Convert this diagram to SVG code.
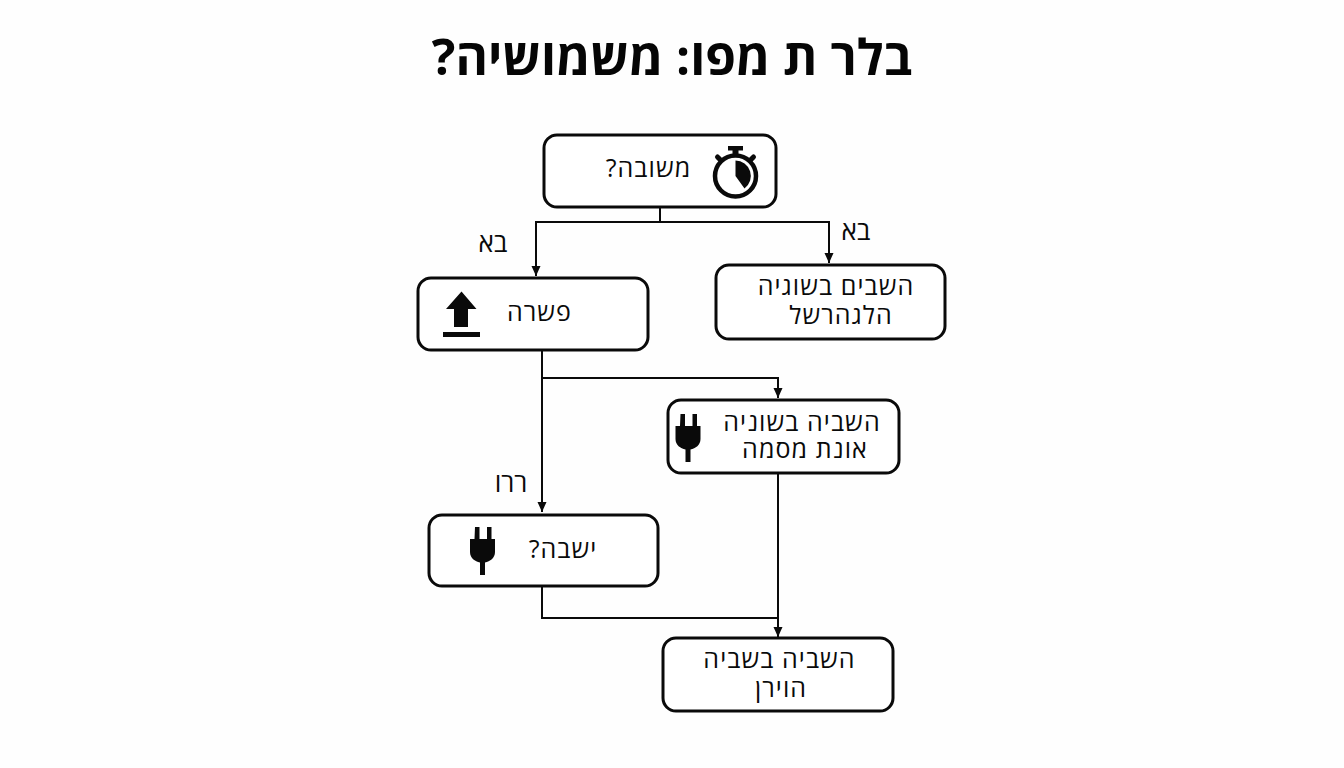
<svg xmlns="http://www.w3.org/2000/svg" width="1344" height="768" viewBox="0 0 1344 768">
<style>
text{font-family:"Open Sans","DejaVu Sans",sans-serif;fill:#0a0a0a;text-anchor:middle;direction:rtl}
.t{font-size:25px;letter-spacing:1.100px}
.l{font-size:26px}
.title{font-size:49.500px;font-weight:700;fill:#050505}
.box{fill:#fff;stroke:#0a0a0a;stroke-width:3}
.c{fill:none;stroke:#0a0a0a;stroke-width:2}
.i{fill:#0a0a0a}
</style>
<defs>
<marker id="a" markerWidth="10" markerHeight="10" refX="10" refY="4.500" orient="auto" markerUnits="userSpaceOnUse"><path d="M0 0L10 4.500L0 9Z" fill="#0a0a0a"/></marker>
<path id="plug" class="i" d="M-7.500-24h4.500v12h7.500v-12h4.500v12h3.500v13c0 6-5 9.500-10 10.500v12.500h-5v-12.500c-5-1-10-4.500-10-10.500v-13h4.500z"/>
</defs>
<rect width="1344" height="768" fill="#fefefe"/>
<text class="title" x="672" y="75">בלר ת מפו: משמושיה?</text>
<g id="connectors">
<path class="c" d="M660 207V222"/>
<path class="c" d="M660 222H536V276" marker-end="url(#a)"/>
<path class="c" d="M660 222H829V263" marker-end="url(#a)"/>
<path class="c" d="M542 350V512" marker-end="url(#a)"/>
<path class="c" d="M542 378H778V398" marker-end="url(#a)"/>
<path class="c" d="M778 473V637" marker-end="url(#a)"/>
<path class="c" d="M542 586V618H778"/>
</g>
<g id="n1"><rect class="box" x="544" y="135" width="232" height="72" rx="13"/>
<text class="t" x="648.500" y="177">משובה?</text>
<g transform="translate(735.500 176)"><circle r="20.500" fill="none" stroke="#0a0a0a" stroke-width="4.500"/><path class="i" d="M0-15.500A15.500 15.500 0 0 1 9 12.500L0 0Z"/><rect class="i" x="-7.500" y="-30" width="15" height="4.500"/><rect class="i" x="-3" y="-27" width="6" height="6"/><path d="M-15-16l-3-3M15-16l3-3" stroke="#0a0a0a" stroke-width="5" stroke-linecap="round"/></g></g>
<g id="n2"><rect class="box" x="418" y="278" width="230" height="72" rx="13"/>
<text class="t" x="539.500" y="321">פשרה</text>
<path class="i" d="M461.500 291.500L476.500 309H468V327H454V309H446Z"/><rect class="i" x="443" y="332" width="37" height="5"/></g>
<g id="n3"><rect class="box" x="716" y="265" width="229" height="74" rx="13"/>
<text class="t"><tspan x="836" y="295">השבים בשוגיה</tspan><tspan x="841" y="324">הלגהרשל</tspan></text></g>
<g id="n4"><rect class="box" x="668" y="400" width="231" height="73" rx="13"/>
<text class="t"><tspan x="802" y="431">השביה בשוניה</tspan><tspan x="805" y="458">אונת מסמה</tspan></text>
<use href="#plug" x="688" y="438"/></g>
<g id="n5"><rect class="box" x="429" y="515" width="229" height="71" rx="13"/>
<text class="t" x="563" y="558">ישבה?</text>
<use href="#plug" x="482.500" y="551"/></g>
<g id="n6"><rect class="box" x="663" y="638" width="230" height="73" rx="13"/>
<text class="t"><tspan x="779.500" y="668">השביה בשביה</tspan><tspan x="781" y="697">הוירן</tspan></text></g>
<text class="l" x="493" y="252">בא</text>
<text class="l" x="856" y="240">בא</text>
<text class="l" x="511" y="492">ררו</text>
</svg>
